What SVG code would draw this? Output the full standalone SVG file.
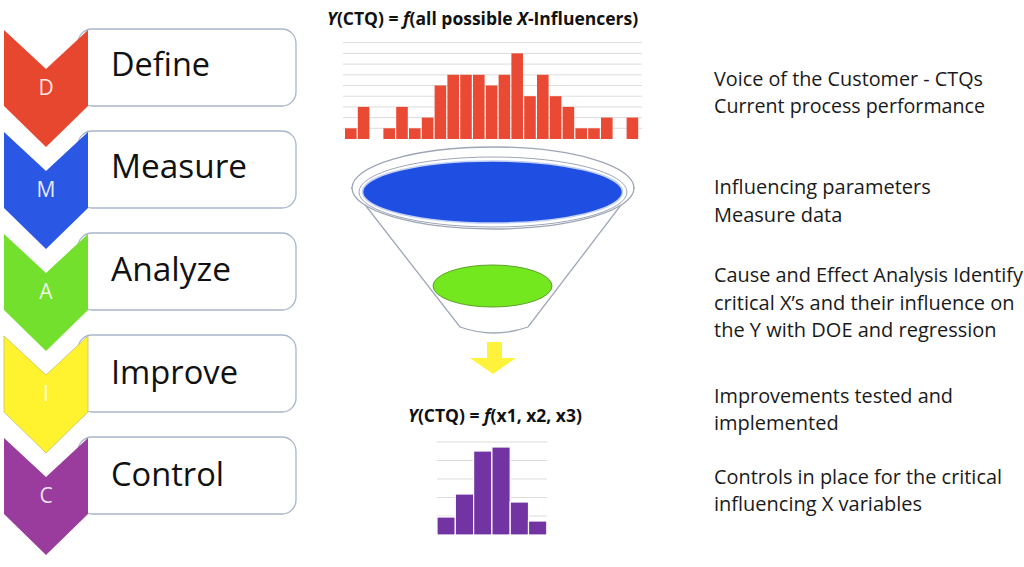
<svg xmlns="http://www.w3.org/2000/svg" width="1024" height="567" viewBox="0 0 1024 567">
<style>
.box{fill:#ffffff;stroke:#a9b5c9;stroke-width:1.3}
.lbl{font-family:"Open Sans","Liberation Sans",sans-serif;font-size:32px;fill:#111}
.ltr{font-family:"Open Sans","Liberation Sans",sans-serif;font-size:21px;fill:#ffffff;fill-opacity:0.88;text-anchor:middle}
.desc{font-family:"Open Sans","Liberation Sans",sans-serif;font-size:20px;fill:#1a1a1a}
.ttl{font-family:"Open Sans","Liberation Sans",sans-serif;font-size:17.5px;font-weight:bold;fill:#111}
.it{font-style:italic}
.grid{stroke:#dcdcdc;stroke-width:1}
.rbar{fill:#ea4a33}
.pbar{fill:#7233a3;stroke:#ffffff;stroke-width:1.2}
</style>
<rect width="1024" height="567" fill="#ffffff"/>

<g id="define">
  <rect class="box" x="78" y="29" width="218" height="77" rx="14"/>
  <path d="M4,30 L46,69 L88,30 L88,106 L46,147 L4,106 Z" fill="#e8472f"/>
  <text class="ltr" x="46" y="95">D</text>
  <text class="lbl" x="111" y="76" textLength="99" lengthAdjust="spacingAndGlyphs">Define</text>
</g>
<g id="measure">
  <rect class="box" x="78" y="131" width="218" height="77" rx="14"/>
  <path d="M4,132 L46,171 L88,132 L88,208 L46,249 L4,208 Z" fill="#2a57e4"/>
  <text class="ltr" x="46" y="197">M</text>
  <text class="lbl" x="111" y="178" textLength="136" lengthAdjust="spacingAndGlyphs">Measure</text>
</g>
<g id="analyze">
  <rect class="box" x="78" y="233" width="218" height="77" rx="14"/>
  <path d="M4,234 L46,273 L88,234 L88,310 L46,351 L4,310 Z" fill="#72e02c"/>
  <text class="ltr" x="46" y="299">A</text>
  <text class="lbl" x="111" y="281" textLength="120" lengthAdjust="spacingAndGlyphs">Analyze</text>
</g>
<g id="improve">
  <rect class="box" x="78" y="335" width="218" height="77" rx="14"/>
  <path d="M4,336 L46,375 L88,336 L88,412 L46,453 L4,412 Z" fill="#fff22f" stroke="#c8c060" stroke-width="0.8"/>
  <text class="ltr" x="46" y="401">I</text>
  <text class="lbl" x="111" y="384" textLength="127" lengthAdjust="spacingAndGlyphs">Improve</text>
</g>
<g id="control">
  <rect class="box" x="78" y="437" width="218" height="77" rx="14"/>
  <path d="M4,438 L46,477 L88,438 L88,514 L46,555 L4,514 Z" fill="#9a3c9e"/>
  <text class="ltr" x="46" y="503">C</text>
  <text class="lbl" x="111" y="486" textLength="113" lengthAdjust="spacingAndGlyphs">Control</text>
</g>

<g id="title-top">
  <text class="ttl" x="327" y="25"><tspan class="it">Y</tspan>(CTQ) = <tspan class="it">f</tspan>(all possible <tspan class="it">X</tspan>-Influencers)</text>
</g>

<g id="histogram-top">
  <g class="grid">
    <line x1="343" y1="42.7" x2="642" y2="42.7"/>
    <line x1="343" y1="53.4" x2="642" y2="53.4"/>
    <line x1="343" y1="64.1" x2="642" y2="64.1"/>
    <line x1="343" y1="74.8" x2="642" y2="74.8"/>
    <line x1="343" y1="85.5" x2="642" y2="85.5"/>
    <line x1="343" y1="96.2" x2="642" y2="96.2"/>
    <line x1="343" y1="106.9" x2="642" y2="106.9"/>
    <line x1="343" y1="117.6" x2="642" y2="117.6"/>
    <line x1="343" y1="128.3" x2="642" y2="128.3"/>
  </g>
  <g class="rbar">
    <rect x="345.0" y="128.3" width="11.6" height="10.7"/>
    <rect x="357.8" y="106.9" width="11.6" height="32.1"/>
    <rect x="383.4" y="128.3" width="11.6" height="10.7"/>
    <rect x="396.2" y="106.9" width="11.6" height="32.1"/>
    <rect x="409.0" y="128.3" width="11.6" height="10.7"/>
    <rect x="421.8" y="117.6" width="11.6" height="21.4"/>
    <rect x="434.6" y="85.5" width="11.6" height="53.5"/>
    <rect x="447.4" y="74.8" width="11.6" height="64.2"/>
    <rect x="460.2" y="74.8" width="11.6" height="64.2"/>
    <rect x="473.0" y="74.8" width="11.6" height="64.2"/>
    <rect x="485.8" y="85.5" width="11.6" height="53.5"/>
    <rect x="498.6" y="74.8" width="11.6" height="64.2"/>
    <rect x="511.4" y="53.4" width="11.6" height="85.6"/>
    <rect x="524.2" y="96.2" width="11.6" height="42.8"/>
    <rect x="537.0" y="74.8" width="11.6" height="64.2"/>
    <rect x="549.8" y="96.2" width="11.6" height="42.8"/>
    <rect x="562.6" y="106.9" width="11.6" height="32.1"/>
    <rect x="575.4" y="128.3" width="11.6" height="10.7"/>
    <rect x="588.2" y="128.3" width="11.6" height="10.7"/>
    <rect x="601.0" y="117.6" width="11.6" height="21.4"/>
    <rect x="626.6" y="117.6" width="11.6" height="21.4"/>
  </g>
</g>

<g id="funnel">
  <path d="M352,188 L460,327 Q494,339 528,327 L634,188 Z" fill="#ffffff" stroke="#9ea6b6" stroke-width="1.3"/>
  <ellipse cx="493" cy="188" rx="141" ry="41" fill="#ffffff" stroke="#9ea6b6" stroke-width="1.3"/>
  <ellipse cx="493" cy="192" rx="134" ry="35" fill="#ffffff" stroke="#9ea6b6" stroke-width="1"/>
  <ellipse cx="492.5" cy="192" rx="130" ry="31" fill="#1f4fe2" stroke="#c3d0f2" stroke-width="1.5"/>
  <ellipse cx="492.5" cy="286" rx="59.5" ry="21" fill="#74e81e" stroke="#5b9f2a" stroke-width="1"/>
</g>

<g id="connectors">
  <path d="M487,342 L502,342 L502,358 L516,358 L493,374 L470,358 L487,358 Z" fill="#fff23a"/>
</g>

<g id="title-bottom">
  <text class="ttl" x="408" y="422"><tspan class="it">Y</tspan>(CTQ) = <tspan class="it">f</tspan>(x1, x2, x3)</text>
</g>

<g id="histogram-bottom">
  <g class="grid">
    <line x1="437" y1="442" x2="547" y2="442"/>
    <line x1="437" y1="460.5" x2="547" y2="460.5"/>
    <line x1="437" y1="479" x2="547" y2="479"/>
    <line x1="437" y1="497.5" x2="547" y2="497.5"/>
    <line x1="437" y1="516" x2="547" y2="516"/>
  </g>
  <rect class="pbar" x="437" y="517" width="18.3" height="18"/>
  <rect class="pbar" x="455.3" y="494" width="18.3" height="41"/>
  <rect class="pbar" x="473.6" y="451" width="18.3" height="84"/>
  <rect class="pbar" x="491.9" y="447" width="18.3" height="88"/>
  <rect class="pbar" x="510.2" y="502" width="18.3" height="33"/>
  <rect class="pbar" x="528.5" y="521" width="18.3" height="14"/>
</g>

<g id="descriptions">
  <text class="desc" x="714" y="86" textLength="269" lengthAdjust="spacingAndGlyphs">Voice of the Customer - CTQs</text>
  <text class="desc" x="714" y="113" textLength="271" lengthAdjust="spacingAndGlyphs">Current process performance</text>
  <text class="desc" x="714" y="194">Influencing parameters</text>
  <text class="desc" x="714" y="222">Measure data</text>
  <text class="desc" x="714" y="282" textLength="309" lengthAdjust="spacingAndGlyphs">Cause and Effect Analysis Identify</text>
  <text class="desc" x="714" y="310">critical X’s and their influence on</text>
  <text class="desc" x="714" y="337">the Y with DOE and regression</text>
  <text class="desc" x="714" y="403" textLength="239" lengthAdjust="spacingAndGlyphs">Improvements tested and</text>
  <text class="desc" x="714" y="430">implemented</text>
  <text class="desc" x="714" y="484" textLength="288" lengthAdjust="spacingAndGlyphs">Controls in place for the critical</text>
  <text class="desc" x="714" y="511">influencing X variables</text>
</g>
</svg>
